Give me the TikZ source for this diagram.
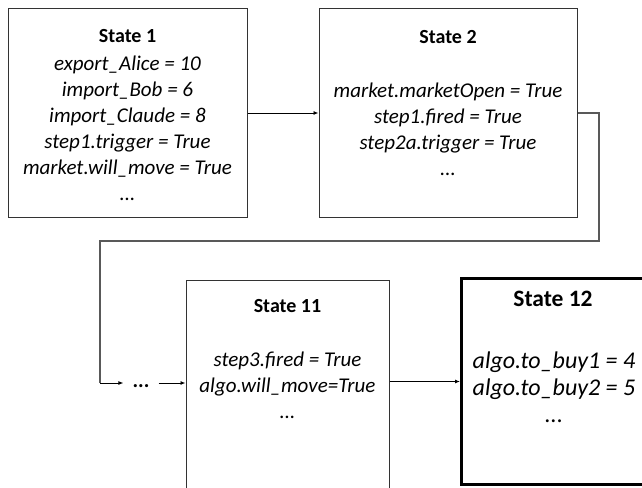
\documentclass[tikz,border=0pt]{standalone}
\usepackage{fontspec}
\setmainfont{Carlito}
\usetikzlibrary{arrows.meta}

\begin{document}
\begin{tikzpicture}[x=1pt, y=-1pt,
    state_box/.style={draw=black!80, line width=1pt, inner sep=0pt},
    title_text/.style={font=\fontsize{20}{24}\selectfont\bfseries},
    body_text/.style={align=center, inner sep=0pt, font=\fontsize{21}{26}\selectfont\itshape},
    flow/.style={-{Latex[length=5pt, width=4pt]}, line width=0.9pt}]
    \useasboundingbox (0,0) rectangle (642,487);
    \begin{scope}
    \clip (0,0) rectangle (642,487);
    % the four states
    \node[state_box, minimum width=239pt, minimum height=208pt] (s1) at (127.5,113) {};
    \node[state_box, minimum width=258pt, minimum height=208pt] (s2) at (448,113) {};
    \node[state_box, minimum width=203pt, minimum height=222pt] (s11) at (287.5,391) {};
    \node[state_box, draw=black, line width=3pt, minimum width=200pt, minimum height=206pt] (s12) at (561.5,381.5) {};
    \end{scope}

    \node[title_text] (t1) at (127.5,36) {State 1};
    \node[body_text] (b1) at (127.5,128) {export\_Alice = 10\\import\_Bob = 6\\import\_Claude = 8\\step1.trigger = True\\market.will\_move = True\\...};
    \node[title_text] (t2) at (448,37) {State 2};
    \node[body_text] (b2) at (448,129) {market.marketOpen = True\\step1.fired = True\\step2a.trigger = True\\...};
    \node[title_text] (t11) at (287.5,306) {State 11};
    \node[body_text] (b11) at (287.5,385) {step3.fired = True\\algo.will\_move=True\\...};
    \node[title_text, font=\fontsize{23.5}{28}\selectfont\bfseries] (t12) at (553,299) {State 12};
    \node[body_text, font=\fontsize{24}{27}\selectfont\itshape] (b12) at (554,387) {algo.to\_buy1 = 4\\algo.to\_buy2 = 5\\...};

    \node[inner xsep=9pt, anchor=base, font=\fontsize{21}{26}\selectfont\bfseries] (dots) at (141,387) {...};
    \coordinate (c1) at (599,241);
    \coordinate (c2) at (100,241);
    \coordinate (c3) at (100,383);

    % connectors
    \draw[flow] (s1) -- (s2);
    \draw[black!65, line width=1.3pt] (s2.east) -| (c1) -- (c2) -- (c3);
    \draw[flow] (c3) -- (c3 -| dots.west);
    \draw[flow] (c3 -| dots.east) -- (c3 -| s11.west);
    \draw[flow] (s12.west -| s11.east) -- (s12.west);
\end{tikzpicture}
\end{document}
